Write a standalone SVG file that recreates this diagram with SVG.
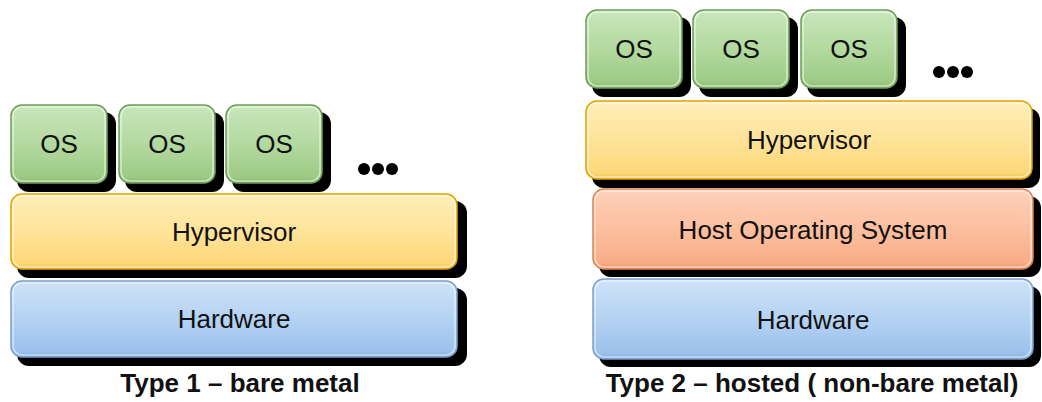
<svg xmlns="http://www.w3.org/2000/svg" width="1042" height="402" viewBox="0 0 1042 402">
<defs>
<linearGradient id="gGreen" x1="0" y1="0" x2="0" y2="1"><stop offset="0" stop-color="#c9e6bb"/><stop offset="0.5" stop-color="#b3d9a0"/><stop offset="0.92" stop-color="#9dcb85"/><stop offset="1" stop-color="#86b56c"/></linearGradient>
<linearGradient id="gYellow" x1="0" y1="0" x2="0" y2="1"><stop offset="0" stop-color="#ffeeb8"/><stop offset="0.5" stop-color="#ffe39a"/><stop offset="0.92" stop-color="#fdd878"/><stop offset="1" stop-color="#f0c050"/></linearGradient>
<linearGradient id="gBlue" x1="0" y1="0" x2="0" y2="1"><stop offset="0" stop-color="#cfe2f8"/><stop offset="0.5" stop-color="#b5d2f2"/><stop offset="0.92" stop-color="#9cc1ec"/><stop offset="1" stop-color="#84acdc"/></linearGradient>
<linearGradient id="gOrange" x1="0" y1="0" x2="0" y2="1"><stop offset="0" stop-color="#fdd2bb"/><stop offset="0.5" stop-color="#fcbf9f"/><stop offset="0.92" stop-color="#f8ad88"/><stop offset="1" stop-color="#e8956c"/></linearGradient>
</defs>
<style>
.os{fill:url(#gGreen);stroke:#6e9e58;stroke-width:1.5}
.hy{fill:url(#gYellow);stroke:#e0a400;stroke-width:1.5}
.hw{fill:url(#gBlue);stroke:#7a9fd0;stroke-width:1.5}
.ho{fill:url(#gOrange);stroke:#e08450;stroke-width:1.5}
.hl{fill:none;stroke:#ffffff;stroke-opacity:0.55;stroke-width:1.5}
.t{font-family:"Liberation Sans",Arial,sans-serif;font-size:26px;fill:#111;text-anchor:middle;dominant-baseline:central}
.cap{font-family:"Liberation Sans",Arial,sans-serif;font-size:26px;font-weight:bold;fill:#111;text-anchor:middle}
</style>
<g id="shadows" fill="#000">
<rect x="17" y="112" width="99" height="80" rx="12"/>
<rect x="125" y="112" width="99" height="80" rx="12"/>
<rect x="232" y="112" width="99" height="80" rx="12"/>
<rect x="17" y="201" width="450" height="77" rx="12"/>
<rect x="17" y="288" width="450" height="78" rx="12"/>
<rect x="592" y="17" width="99" height="80" rx="12"/>
<rect x="699" y="17" width="99" height="80" rx="12"/>
<rect x="807" y="17" width="99" height="80" rx="12"/>
<rect x="592" y="108" width="448" height="80" rx="12"/>
<rect x="599" y="196" width="442" height="81" rx="12"/>
<rect x="599" y="286" width="442" height="81" rx="12"/>
</g>
<g id="left-os1"><rect class="os" x="11" y="105" width="96" height="78" rx="11"/><rect class="hl" x="13" y="107" width="92" height="74" rx="9"/><text class="t" x="59" y="144">OS</text></g>
<g id="left-os2"><rect class="os" x="119" y="105" width="96" height="78" rx="11"/><rect class="hl" x="121" y="107" width="92" height="74" rx="9"/><text class="t" x="167" y="144">OS</text></g>
<g id="left-os3"><rect class="os" x="226" y="105" width="96" height="78" rx="11"/><rect class="hl" x="228" y="107" width="92" height="74" rx="9"/><text class="t" x="274" y="144">OS</text></g>
<g id="left-dots" fill="#000"><circle cx="364" cy="169" r="6"/><circle cx="378" cy="169" r="6"/><circle cx="392" cy="169" r="6"/></g>
<g id="left-hypervisor"><rect class="hy" x="11" y="194" width="446" height="75" rx="11"/><rect class="hl" x="13" y="196" width="442" height="71" rx="9"/><text class="t" x="234" y="232">Hypervisor</text></g>
<g id="left-hardware"><rect class="hw" x="11" y="281" width="446" height="76" rx="11"/><rect class="hl" x="13" y="283" width="442" height="72" rx="9"/><text class="t" x="234" y="319">Hardware</text></g>
<text id="left-caption" class="cap" x="240" y="392">Type 1 – bare metal</text>

<g id="right-os1"><rect class="os" x="586" y="10" width="96" height="78" rx="11"/><rect class="hl" x="588" y="12" width="92" height="74" rx="9"/><text class="t" x="634" y="49">OS</text></g>
<g id="right-os2"><rect class="os" x="693" y="10" width="96" height="78" rx="11"/><rect class="hl" x="695" y="12" width="92" height="74" rx="9"/><text class="t" x="741" y="49">OS</text></g>
<g id="right-os3"><rect class="os" x="801" y="10" width="96" height="78" rx="11"/><rect class="hl" x="803" y="12" width="92" height="74" rx="9"/><text class="t" x="849" y="49">OS</text></g>
<g id="right-dots" fill="#000"><circle cx="939" cy="72" r="6"/><circle cx="953" cy="72" r="6"/><circle cx="967" cy="72" r="6"/></g>
<g id="right-hypervisor"><rect class="hy" x="586" y="101" width="446" height="78" rx="11"/><rect class="hl" x="588" y="103" width="442" height="74" rx="9"/><text class="t" x="809" y="140">Hypervisor</text></g>
<g id="right-hostos"><rect class="ho" x="593" y="189" width="440" height="80" rx="11"/><rect class="hl" x="595" y="191" width="436" height="76" rx="9"/><text class="t" x="813" y="230">Host Operating System</text></g>
<g id="right-hardware"><rect class="hw" x="593" y="279" width="440" height="80" rx="11"/><rect class="hl" x="595" y="281" width="436" height="76" rx="9"/><text class="t" x="813" y="320">Hardware</text></g>
<text id="right-caption" class="cap" x="812" y="392">Type 2 – hosted ( non-bare metal)</text>
</svg>
